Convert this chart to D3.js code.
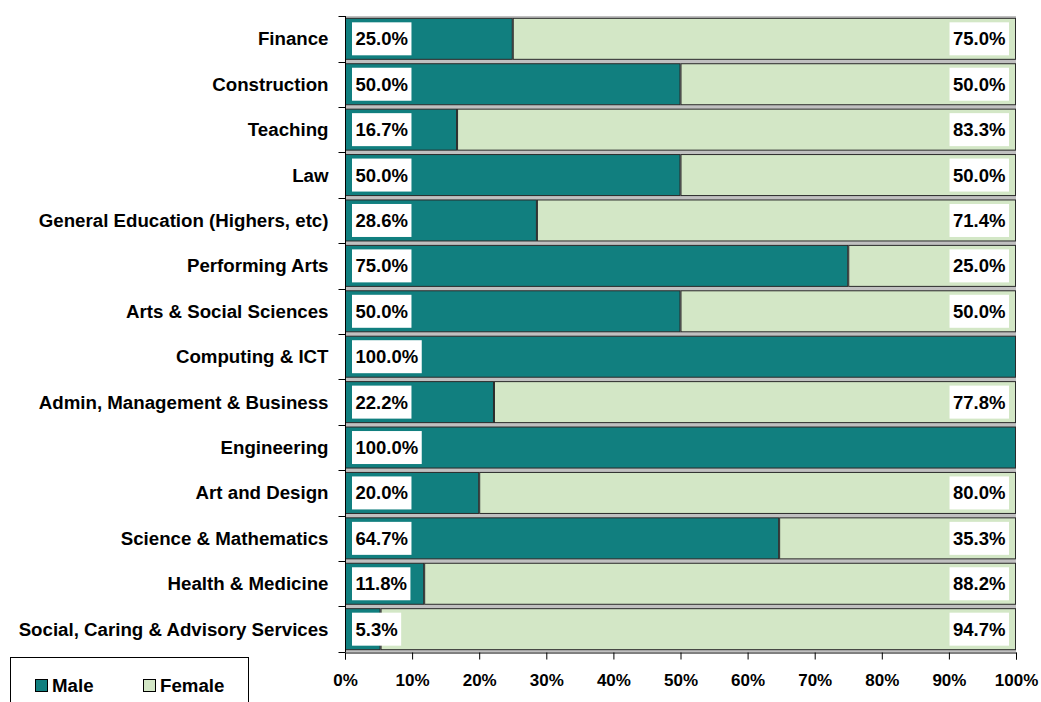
<!DOCTYPE html>
<html>
<head>
<meta charset="utf-8">
<script src="https://cdn.jsdelivr.net/npm/d3@7"></script>
<style>
  body { margin: 0; background: #fff; }
  text { font-family: Arial, "Liberation Sans", sans-serif; font-weight: bold; fill: #000; }
</style>
</head>
<body>
<svg id="chart" width="1041" height="702"></svg>
<script>
// categories, top to bottom
var categories = ['Finance', 'Construction', 'Teaching', 'Law', 'General Education (Highers, etc)',
  'Performing Arts', 'Arts & Social Sciences', 'Computing & ICT', 'Admin, Management & Business',
  'Engineering', 'Art and Design', 'Science & Mathematics', 'Health & Medicine',
  'Social, Caring & Advisory Services']
var male = [25.0, 50.0, 16.7, 50.0, 28.6, 75.0, 50.0, 100.0, 22.2, 100.0, 20.0, 64.7, 11.8, 5.3]
var female = [75.0, 50.0, 83.3, 50.0, 71.4, 25.0, 50.0, 0, 77.8, 0, 80.0, 35.3, 88.2, 94.7]
var tickValues = [0, 10, 20, 30, 40, 50, 60, 70, 80, 90, 100]
var series = ['Male', 'Female']

var colors = {Male: '#117f7f', Female: '#d3e7c6'}

var svg = d3.select('#chart')

// note: "top" is reserved on window, so use plot* names
var plotL = 345, plotR = 1016, plotT = 16, plotB = 652

var x = d3.scaleLinear()
    .domain([0, 100])
    .range([plotL, plotR])

var y = d3.scaleBand()
    .domain(categories)
    .range([plotT, plotB])
    .paddingInner(0.075)
    .paddingOuter(0.04)

// plot area background (shows between bars)
svg.append('rect')
    .attr('x', plotL).attr('y', plotT)
    .attr('width', plotR - plotL).attr('height', plotB - plotT)
    .attr('fill', '#c0c0c0')

var rows = categories.map(function(c, i) {
    return {cat: c, male: male[i], female: female[i]}
})

var g = svg.append('g')

g.selectAll('rect.male')
    .data(rows)
    .join('rect')
    .attr('class', 'male')
    .attr('x', x(0) + 0.5)
    .attr('y', function(d) { return y(d.cat) + 0.5 })
    .attr('width', function(d) { return x(d.male) - x(0) - 1 })
    .attr('height', y.bandwidth() - 1)
    .attr('fill', colors.Male)
    .attr('stroke', '#2a2a2a')
    .attr('stroke-width', 1)

g.selectAll('rect.female')
    .data(rows.filter(function(d) { return d.female > 0 }))
    .join('rect')
    .attr('class', 'female')
    .attr('x', function(d) { return x(d.male) + 0.5 })
    .attr('y', function(d) { return y(d.cat) + 0.5 })
    .attr('width', function(d) { return x(d.male + d.female) - x(d.male) - 1 })
    .attr('height', y.bandwidth() - 1)
    .attr('fill', colors.Female)
    .attr('stroke', '#2a2a2a')
    .attr('stroke-width', 1)

// data labels with white boxes
function addLabel(sel, txt, xpos, anchor, cy) {
    var t = sel.append('text')
        .attr('x', xpos)
        .attr('y', cy)
        .attr('dy', '0.35em')
        .attr('text-anchor', anchor)
        .style('font-size', '18.5px')
        .text(txt)
    var bb = t.node().getBBox()
    sel.insert('rect', 'text')
        .attr('x', bb.x - 3.5)
        .attr('y', cy - 16.5)
        .attr('width', bb.width + 7)
        .attr('height', 33)
        .attr('fill', '#fff')
}

var labels = svg.append('g')
rows.forEach(function(d) {
    var cy = y(d.cat) + y.bandwidth() / 2
    addLabel(labels.append('g'), d.male.toFixed(1) + '%', x(0) + 10.5, 'start', cy)
    if (d.female > 0) {
        addLabel(labels.append('g'), d.female.toFixed(1) + '%', x(100) - 10.5, 'end', cy)
    }
})

// y axis
var yAxis = svg.append('g')
    .attr('transform', 'translate(' + (plotL + 0.5) + ',0)')
yAxis.append('line')
    .attr('y1', plotT).attr('y2', plotB)
    .attr('stroke', '#000')
var bounds = categories.map(function(c) { return y(c) - y.step() * y.paddingInner() / 2 })
bounds[0] = plotT
bounds.push(plotB)
yAxis.selectAll('line.tick')
    .data(bounds)
    .join('line')
    .attr('class', 'tick')
    .attr('x1', -7).attr('x2', 0)
    .attr('y1', function(d) { return Math.round(d) + 0.5 })
    .attr('y2', function(d) { return Math.round(d) + 0.5 })
    .attr('stroke', '#000')
yAxis.selectAll('text')
    .data(categories)
    .join('text')
    .attr('x', -17)
    .attr('y', function(d) { return y(d) + y.bandwidth() / 2 })
    .attr('dy', '0.35em')
    .attr('text-anchor', 'end')
    .style('font-size', '18.7px')
    .text(function(d) { return d })

// x axis
var xAxis = svg.append('g')
    .attr('transform', 'translate(0,' + (plotB + 0.5) + ')')
    .call(d3.axisBottom(x)
        .tickValues(tickValues)
        .tickFormat(function(d) { return d + '%' })
        .tickSize(7)
        .tickPadding(14))
xAxis.select('.domain').attr('stroke', '#000')
xAxis.selectAll('.tick line').attr('stroke', '#000')
xAxis.selectAll('.tick text')
    .attr('fill', '#000')
    .style('font-size', '17px')
    .style('font-family', 'Arial, "Liberation Sans", sans-serif')
    .style('font-weight', 'bold')

// legend
var legend = svg.append('g')
legend.append('rect')
    .attr('x', 10.5).attr('y', 657.5)
    .attr('width', 238).attr('height', 60)
    .attr('fill', '#fff')
    .attr('stroke', '#000')
var legX = [35, 143]
series.forEach(function(s, i) {
    legend.append('rect')
        .attr('x', legX[i] + 0.5).attr('y', 679.5)
        .attr('width', 12).attr('height', 12)
        .attr('fill', colors[s])
        .attr('stroke', '#000')
    legend.append('text')
        .attr('x', legX[i] + 17)
        .attr('y', 692)
        .style('font-size', '18.7px')
        .text(s)
})
</script>
</body>
</html>
